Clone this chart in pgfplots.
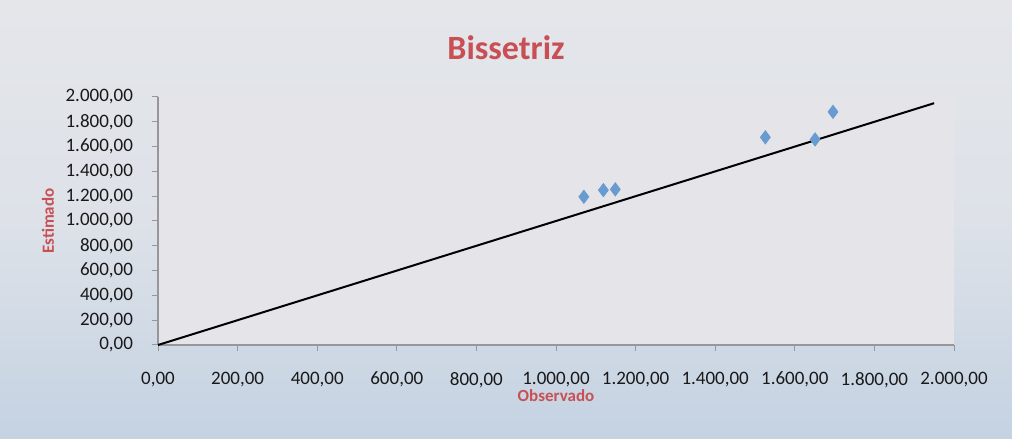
\documentclass[border=0pt]{standalone}
\usepackage{pgfplots}
\pgfplotsset{compat=1.18}
\usepackage{fontspec}
\setmainfont{Carlito}
\definecolor{bgtop}{RGB}{228,230,234}
\definecolor{bgbot}{RGB}{196,210,226}
\definecolor{plotbg}{RGB}{229,229,233}
\definecolor{titlered}{RGB}{200,80,84}
\definecolor{markblue}{RGB}{104,156,208}
\definecolor{axgray}{RGB}{150,150,155}
\begin{document}
\begin{tikzpicture}
\shade[top color=bgtop, bottom color=bgbot, middle color=bgtop!80!bgbot] (0,0) rectangle (506pt,219.5pt);
\node[font=\bfseries\fontsize{17}{20}\selectfont, text=titlered] at (253pt,195.5pt) {Bissetriz};
\begin{axis}[
  at={(79pt,47pt)}, anchor=south west,
  scale only axis, width=398pt, height=124pt,
  xmin=0, xmax=2000, ymin=0, ymax=2000,
  xtick={0,200,...,2000}, ytick={0,200,...,2000},
  axis background/.style={fill=plotbg},
  axis x line*=bottom, axis y line*=left,
  axis line style={axgray, line width=0.6pt},
  tick style={axgray, line width=0.5pt},
  tick align=outside, major tick length=3pt,
  /pgf/number format/.cd, fixed, fixed zerofill, precision=2, use comma, 1000 sep={.}, assume math mode=true,
  /pgfplots/.cd,
  ticklabel style={font=\fontsize{9.5}{11}\selectfont, text=black!90},
  xticklabel shift=7pt,
  yticklabel shift=6pt,
  xlabel={Observado}, ylabel={Estimado},
  label style={font=\bfseries\fontsize{8.5}{10}\selectfont, text=titlered},
  xlabel style={yshift=6pt},
  ylabel style={yshift=-1pt},
  clip=false,
]
\addplot[black, line width=1pt] coordinates {(0,0) (1950,1950)};
\addplot[only marks, mark=diamond*, mark size=3.3pt, mark options={fill=markblue, draw=markblue}] coordinates {
(1070,1195)
(1119,1249)
(1149,1255)
(1526,1675)
(1651,1658)
(1696,1880)
};
\end{axis}
\end{tikzpicture}
\end{document}
